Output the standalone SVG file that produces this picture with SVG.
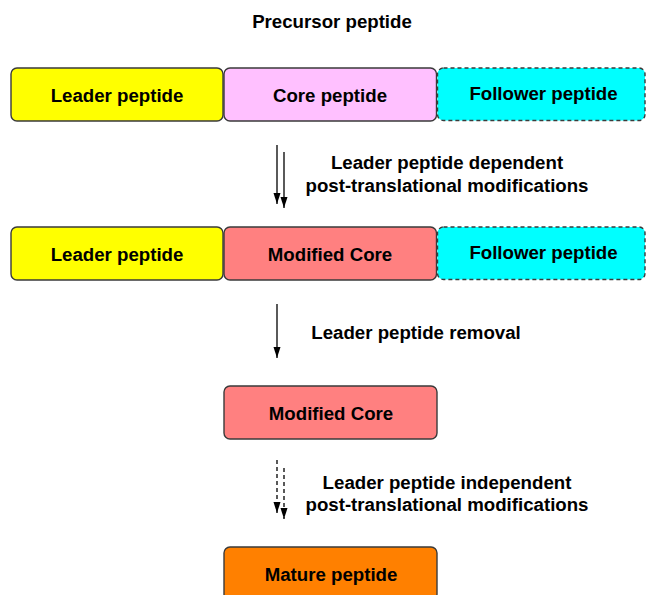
<svg xmlns="http://www.w3.org/2000/svg" width="648" height="595" viewBox="0 0 648 595">
<style>
.box{stroke:#3a3a3a;stroke-width:1.4}
.dash{stroke-dasharray:4,3}
.t{font-family:"Liberation Sans",Arial,sans-serif;font-weight:bold;font-size:18.67px;fill:#000;text-anchor:middle}
.ar{stroke:#000;stroke-width:1.3;fill:none;marker-end:url(#ah)}
.ard{stroke-dasharray:4,3}
</style>
<defs>
<marker id="ah" markerUnits="userSpaceOnUse" markerWidth="12" markerHeight="8" refX="11" refY="3.5" orient="auto">
<path d="M0,0 L11,3.5 L0,7 z" fill="#000"/>
</marker>
</defs>
<rect width="648" height="595" fill="#fff"/>
<text class="t" x="332" y="28">Precursor peptide</text>
<g id="leader1"><rect class="box" x="11" y="68" width="212" height="53" rx="6" fill="#FFFF00"/><text class="t" x="117" y="102">Leader peptide</text></g>
<g id="core1"><rect class="box" x="224" y="68" width="212.5" height="53" rx="6" fill="#FFC0FF"/><text class="t" x="330" y="102">Core peptide</text></g>
<g id="follower1"><rect class="box dash" x="437.5" y="68" width="207.5" height="52.5" rx="6" fill="#00FFFF"/><text class="t" x="543.5" y="100">Follower peptide</text></g>
<g id="leader2"><rect class="box" x="11" y="227" width="212" height="53" rx="6" fill="#FFFF00"/><text class="t" x="117" y="261">Leader peptide</text></g>
<g id="modcore2"><rect class="box" x="224" y="227" width="212.5" height="53" rx="6" fill="#FF8080"/><text class="t" x="330" y="261">Modified Core</text></g>
<g id="follower2"><rect class="box dash" x="437.5" y="227" width="207.5" height="52.5" rx="6" fill="#00FFFF"/><text class="t" x="543.5" y="259">Follower peptide</text></g>
<g id="modcore3"><rect class="box" x="224" y="386" width="213" height="53" rx="6" fill="#FF8080"/><text class="t" x="331" y="420">Modified Core</text></g>
<g id="mature"><rect class="box" x="224" y="547" width="213" height="53" rx="6" fill="#FF8000"/><text class="t" x="331" y="581">Mature peptide</text></g>
<g id="connectors">
<path class="ar" d="M277,145 V204"/>
<path class="ar" d="M284,152 V208"/>
<path class="ar" d="M277,304 V358"/>
<path class="ar ard" d="M277,460 V513"/>
<path class="ar ard" d="M284,468 V519"/>
</g>
<g id="labels">
<text class="t" x="447" y="169">Leader peptide dependent</text>
<text class="t" x="447" y="192">post-translational modifications</text>
<text class="t" x="416" y="339">Leader peptide removal</text>
<text class="t" x="447" y="489">Leader peptide independent</text>
<text class="t" x="447" y="511">post-translational modifications</text>
</g>
</svg>
